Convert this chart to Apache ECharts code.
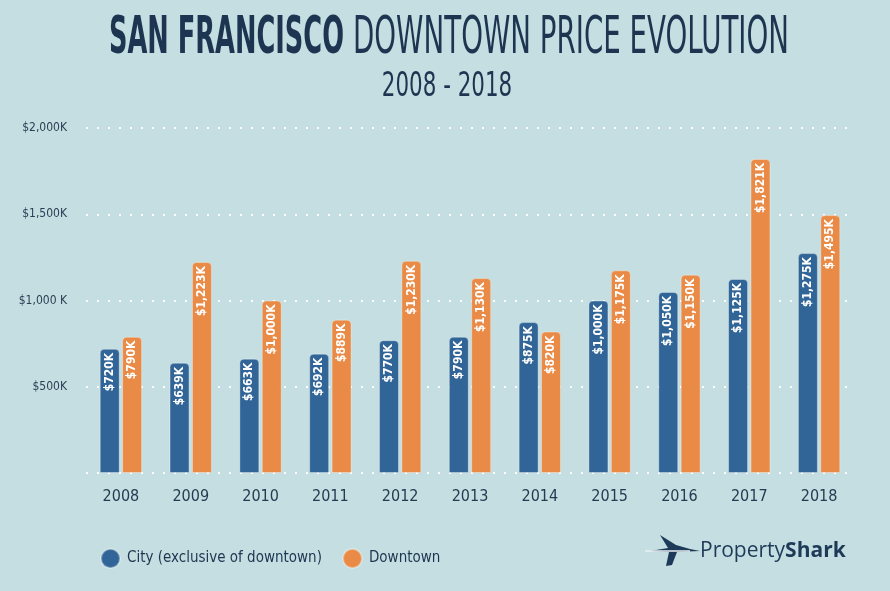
<!DOCTYPE html>
<html>
<head>
<meta charset="utf-8">
<script src="https://cdn.jsdelivr.net/npm/echarts@6/dist/echarts.min.js"></script>
<style>
html,body{margin:0;padding:0;background:#c5dee1;}
#c{width:890px;height:591px;}
</style>
</head>
<body>
<div id="c"></div>
<script>
const years = ['2008','2009','2010','2011','2012','2013','2014','2015','2016','2017','2018'];
const cityValues = [720, 639, 663, 692, 770, 790, 875, 1000, 1050, 1125, 1275];
const downtownValues = [790, 1223, 1000, 889, 1230, 1130, 820, 1175, 1150, 1821, 1495];
const yTickLabels = {0: '', 500: '$500K', 1000: '$1,000 K', 1500: '$1,500K', 2000: '$2,000K'};
const seriesNames = ['City (exclusive of downtown)', 'Downtown'];

const NAVY = '#1d3550';
const BLUE = '#316597';
const ORANGE = '#e98b47';
const COND = "'DejaVu Sans Condensed','Liberation Sans Narrow','Roboto Condensed',sans-serif";

function fmt(v){ return '$' + v.toLocaleString('en-US') + 'K'; }

const chart = echarts.init(document.getElementById('c'), null, {renderer:'canvas'});
const labelCfg = {
  show: true, position: 'insideTop', rotate: 90, align: 'right', verticalAlign: 'middle',
  distance: 4, color: '#ffffff', fontFamily: COND, fontSize: 12, fontWeight: 'bold',
  formatter: p => fmt(p.value)
};
chart.setOption({
  backgroundColor: '#c5dee1',
  animation: false,
  grid: {left: 86, right: 36, top: 128, bottom: 118},
  legend: {
    left: 95, top: 543, icon: 'circle', itemWidth: 19, itemHeight: 19, itemGap: 20,
    textStyle: {color: NAVY, fontFamily: COND, fontSize: 15, padding: [0,0,0,2]},
    data: seriesNames
  },
  xAxis: {
    type: 'category', data: years,
    axisLine: {show: false}, axisTick: {show: false},
    axisLabel: {color: '#253b52', fontFamily: COND, fontSize: 16, margin: 16}
  },
  yAxis: {
    type: 'value', min: 0, max: 2000, interval: 500,
    axisLine: {show: false}, axisTick: {show: false},
    axisLabel: {color: '#2a3f55', fontFamily: COND, fontSize: 12, margin: 19,
      formatter: v => yTickLabels[v]},
    splitLine: {lineStyle: {color: '#ffffff', width: 2, type: [2, 9]}}
  },
  series: [
    {name: seriesNames[0], type: 'bar', data: cityValues, barWidth: 20, barGap: '12%',
     itemStyle: {color: BLUE, borderRadius: [4,4,0,0], borderColor: 'rgba(255,255,255,0.35)', borderWidth: 1}, label: labelCfg},
    {name: seriesNames[1], type: 'bar', data: downtownValues, barWidth: 20,
     itemStyle: {color: ORANGE, borderRadius: [4,4,0,0], borderColor: 'rgba(255,255,255,0.35)', borderWidth: 1}, label: labelCfg}
  ],
  graphic: [
    {type: 'text', x: 344, y: 39, scaleX: 0.549,
     style: {text: 'SAN FRANCISCO', align: 'right', verticalAlign: 'middle',
       fontFamily: COND, fontSize: 52, fontWeight: 'bold', fill: NAVY}},
    {type: 'text', x: 353, y: 39, scaleX: 0.592,
     style: {text: 'DOWNTOWN PRICE EVOLUTION', align: 'left', verticalAlign: 'middle',
       fontFamily: COND, fontSize: 52, fontWeight: 'normal', fill: NAVY}},
    {type: 'text', x: 447, y: 87, scaleX: 0.7,
     style: {text: '2008 - 2018', align: 'center', verticalAlign: 'middle',
       fontFamily: COND, fontSize: 34, fill: NAVY}},
    {type: 'group', x: 0, y: 0, children: [
      {type: 'polygon', shape: {points: [[660,535],[676,545],[690,549],[700,551],[677,552],[672,565],[666,566],[669,552],[650,551],[668,548]]},
       style: {fill: '#1d3a58'}},
      {type: 'line', shape: {x1: 645, y1: 551, x2: 690, y2: 551}, style: {stroke: '#e8f0f2', lineWidth: 1.5}},
      {type: 'text', x: 700, y: 551,
       style: {text: '{p|Property}{s|Shark}', verticalAlign: 'middle',
         rich: {
           p: {fontFamily: "'Open Sans','Noto Sans',sans-serif", fontSize: 21, fill: '#1d3a58'},
           s: {fontFamily: "'Open Sans','Noto Sans',sans-serif", fontSize: 21, fontWeight: 'bold', fill: '#1d3a58'}
         }}}
    ]}
  ]
});
</script>
</body>
</html>
